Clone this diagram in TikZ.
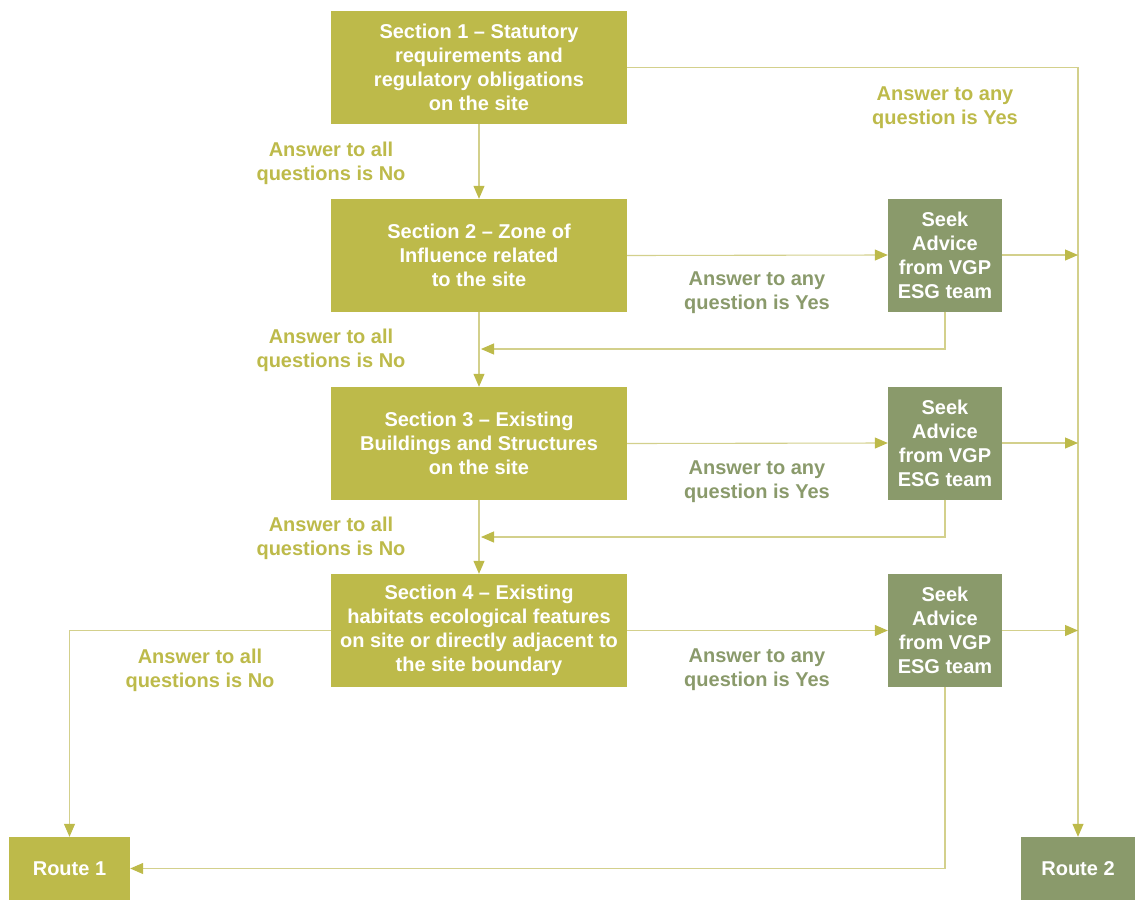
\documentclass[tikz,border=0pt]{standalone}
\usepackage{fontspec}
\setmainfont{Liberation Sans}
\usetikzlibrary{arrows.meta}
\definecolor{olivebox}{HTML}{BDBA4A}
\definecolor{greenbox}{HTML}{8A9A6B}
\definecolor{linecol}{HTML}{D3D08C}
\begin{document}
\begin{tikzpicture}[x=1pt,y=-1pt,
  secbox/.style={fill=olivebox,text=white,font=\fontsize{20}{24}\selectfont\bfseries,align=center,minimum width=296pt,minimum height=113pt,inner sep=0pt},
  seekbox/.style={fill=greenbox,text=white,font=\fontsize{20}{24}\selectfont\bfseries,align=center,minimum width=114pt,minimum height=113pt,inner sep=0pt},
  routebox/.style={text=white,font=\fontsize{20}{24}\selectfont\bfseries,minimum width=121pt,minimum height=63pt,inner sep=0pt},
  lbl/.style={font=\fontsize{20}{24}\selectfont\bfseries,align=center,inner sep=0pt},
  arr/.style={draw=linecol,line width=1.1pt,-{Triangle[length=13pt,width=11pt,color=olivebox]}}]
\useasboundingbox (0,0) rectangle (1135,900);
\node[secbox] (s1) at (479,67.5) {Section 1 -- Statutory\\requirements and\\regulatory obligations\\on the site};
\node[secbox] (s2) at (479,255.5) {Section 2 -- Zone of\\Influence related\\to the site};
\node[secbox] (s3) at (479,443.5) {Section 3 -- Existing\\Buildings and Structures\\on the site};
\node[secbox] (s4) at (479,630.5) {Section 4 -- Existing\\habitats ecological features\\on site or directly adjacent to\\the site boundary};
\node[seekbox] (k2) at (945,255) {Seek\\Advice\\from VGP\\ESG team};
\node[seekbox] (k3) at (945,443) {Seek\\Advice\\from VGP\\ESG team};
\node[seekbox] (k4) at (945,630.5) {Seek\\Advice\\from VGP\\ESG team};
\node[routebox,fill=olivebox] (r1) at (69.5,868.5) {Route 1};
\node[routebox,fill=greenbox,minimum width=114pt] (r2) at (1078,868.5) {Route 2};
\coordinate (j2) at (481,349);
\coordinate (j3) at (481,537);
% connectors
\draw[arr] (s1.east) -| (r2.north);
\draw[arr] (s1.south) -- (s2.north);
\draw[arr] (s2.south) -- (s3.north);
\draw[arr] (s3.south) -- (s4.north);
\draw[arr] (s2.east) -- (k2.west);
\draw[arr] (s3.east) -- (k3.west);
\draw[arr] (s4.east) -- (k4.west);
\draw[arr] (k2.east) -- (k2.east -| r2.north);
\draw[arr] (k3.east) -- (k3.east -| r2.north);
\draw[arr] (k4.east) -- (k4.east -| r2.north);
\draw[arr] (k2.south) |- (j2);
\draw[arr] (k3.south) |- (j3);
\draw[arr] (s4.west) -| (r1.north);
\draw[arr] (k4.south) |- (r1.east);
% labels
\node[lbl,text=olivebox] (l1) at (945,108) {Answer to any\\question is Yes};
\node[lbl,text=olivebox] (n1) at (331,163) {Answer to all\\questions is No};
\node[lbl,text=olivebox] (n2) at (331,350) {Answer to all\\questions is No};
\node[lbl,text=olivebox] (n3) at (331,538) {Answer to all\\questions is No};
\node[lbl,text=olivebox] (n4) at (200,670) {Answer to all\\questions is No};
\node[lbl,text=greenbox] (y2) at (757,293) {Answer to any\\question is Yes};
\node[lbl,text=greenbox] (y3) at (757,482) {Answer to any\\question is Yes};
\node[lbl,text=greenbox] (y4) at (757,670) {Answer to any\\question is Yes};
\end{tikzpicture}
\end{document}
